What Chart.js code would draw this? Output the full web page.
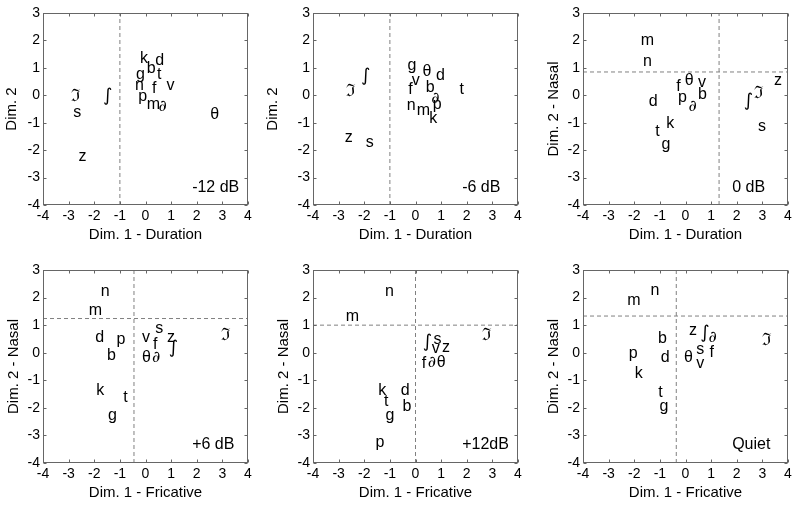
<!DOCTYPE html>
<html lang="en">
<head>
<meta charset="UTF-8">
<title>MDS consonant confusions</title>
<script src="https://cdn.jsdelivr.net/npm/chart.js"></script>
<style>
    body {
        margin: 0;
        background: #fff;
        width: 800px;
        height: 506px;
        position: relative;
        overflow: hidden;
    }
    .panel {
        position: absolute;
    }
</style>
</head>
<body>
<script>
    // consonant order shared by every panel
    const phonemes = ['p', 't', 'k', 'b', 'd', 'g', 'f', 'θ', 's', '∫', 'v', '∂', 'z', 'ℑ', 'm', 'n'];

    const xMinus12 = [-0.28, 0.45, -0.21, 0.05, 0.38, -0.37, 0.25, 2.53, -2.82, -1.66, 0.82, 0.51, -2.61, -2.91, 0.05, -0.41];
    const yMinus12 = [-0.06, 0.75, 1.34, 0.97, 1.27, 0.75, 0.24, -0.72, -0.63, -0.05, 0.34, -0.43, -2.24, -0.05, -0.34, 0.34];

    const xMinus6 = [0.67, 1.72, 0.54, 0.40, 0.80, -0.31, -0.28, 0.27, -1.94, -2.13, -0.15, 0.61, -2.76, -2.72, 0.05, -0.34];
    const yMinus6 = [-0.33, 0.20, -0.85, 0.28, 0.73, 1.10, 0.20, 0.88, -1.71, 0.68, 0.52, -0.13, -1.55, 0.15, -0.57, -0.37];

    const xZero = [-0.29, -1.18, -0.75, 0.49, -1.43, -0.94, -0.36, -0.03, 2.83, 2.27, 0.49, 0.12, 3.45, 2.66, -1.75, -1.66];
    const yZero = [-0.08, -1.32, -1.02, 0.04, -0.23, -1.78, 0.31, 0.55, -1.14, -0.22, 0.48, -0.42, 0.52, 0.06, 1.99, 1.23];

    const xPlus6 = [-1.13, -0.87, -1.92, -1.50, -1.96, -1.46, 0.29, -0.14, 0.38, 0.91, -0.14, 0.25, 0.84, 2.95, -2.21, -1.75];
    const yPlus6 = [0.46, -1.62, -1.38, -0.11, 0.56, -2.29, 0.29, -0.19, 0.86, 0.15, 0.54, -0.19, 0.54, 0.63, 1.53, 2.22];

    const xPlus12 = [-1.56, -1.23, -1.45, -0.51, -0.58, -1.17, 0.24, 0.83, 0.70, 0.28, 0.63, 0.48, 1.03, 2.59, -2.72, -1.19];
    const yPlus12 = [-3.26, -1.77, -1.38, -1.95, -1.38, -2.29, -0.39, -0.36, 0.46, 0.39, 0.14, -0.36, 0.20, 0.63, 1.31, 2.20];

    const xQuiet = [-2.21, -1.06, -1.98, -1.07, -0.97, -1.01, 0.94, -0.06, 0.42, 0.58, 0.42, 0.90, 0.14, 2.98, -2.27, -1.37];
    const yQuiet = [-0.02, -1.44, -0.75, 0.50, -0.17, -1.96, 0.01, -0.16, 0.10, 0.69, -0.41, 0.54, 0.80, 0.45, 1.90, 2.24];

    const conditions = ['-12 dB', '-6 dB', '0 dB', '+6 dB', '+12dB', 'Quiet'];
    const xTitles = ['Dim. 1 - Duration', 'Dim. 1 - Duration', 'Dim. 1 - Duration',
                     'Dim. 1 - Fricative', 'Dim. 1 - Fricative', 'Dim. 1 - Fricative'];
    const yTitles = ['Dim. 2', 'Dim. 2', 'Dim. 2 - Nasal', 'Dim. 2 - Nasal', 'Dim. 2 - Nasal', 'Dim. 2 - Nasal'];

    // dashed split lines (null = none)
    const splitX = [-1, -1, 1.31, -0.45, 0, -0.36];
    const splitY = [null, null, 0.85, 1.24, 1.0, 1.33];

    const xRange = [-4, 4];
    const yRange = [-4, 3];
    const tagPos = [1.82, -3.35];

    const panelX = [xMinus12, xMinus6, xZero, xPlus6, xPlus12, xQuiet];
    const panelY = [yMinus12, yMinus6, yZero, yPlus6, yPlus12, yQuiet];

    // plot-area boxes in page pixels (left, top, width, height, y-title offset)
    const areas = [
        { l: 43,  t: 13,  w: 205, h: 192, off: 31 },
        { l: 313, t: 13,  w: 205, h: 192, off: 40 },
        { l: 583, t: 13,  w: 205, h: 192, off: 29 },
        { l: 43,  t: 270, w: 205, h: 193, off: 29 },
        { l: 313, t: 270, w: 205, h: 193, off: 29 },
        { l: 583, t: 270, w: 205, h: 193, off: 29 }
    ];

    const FAMILY = '"Liberation Sans", Arial, Helvetica, sans-serif';
    Chart.defaults.font.family = FAMILY;
    Chart.defaults.color = '#000';

    function labelFont(s) {
        if (s === '∂') return 'italic 16px "DejaVu Serif", serif';
        if (s === 'ℑ') return '17px "DejaVu Serif", serif';
        if (s === '∫') return '18px "DejaVu Sans", sans-serif';
        return '16px ' + FAMILY;
    }

    // draws the consonant symbols and the condition tag at their data positions
    const phonemeText = {
        id: 'phonemeText',
        afterDatasetsDraw(chart, args, opts) {
            const { ctx, scales: { x, y } } = chart;
            const pts = chart.data.datasets[0].data;
            ctx.save();
            ctx.fillStyle = '#000';
            ctx.textAlign = 'left';
            ctx.textBaseline = 'middle';
            pts.forEach(p => {
                ctx.font = labelFont(p.label);
                ctx.fillText(p.label, x.getPixelForValue(p.x), y.getPixelForValue(p.y));
            });
            ctx.font = '16px ' + FAMILY;
            ctx.fillText(opts.tag, x.getPixelForValue(tagPos[0]), y.getPixelForValue(tagPos[1]));
            ctx.restore();
        }
    };

    // matlab style box with inward tick marks
    const matlabBox = {
        id: 'matlabBox',
        afterDraw(chart) {
            const { ctx, chartArea: a, scales: { x, y } } = chart;
            const L = Math.round(a.left) + 0.5, R = Math.round(a.right) - 0.5;
            const T = Math.round(a.top) + 0.5, B = Math.round(a.bottom) - 0.5;
            const len = 3;
            ctx.save();
            ctx.strokeStyle = '#666';
            ctx.lineWidth = 1;
            ctx.strokeRect(L, T, R - L, B - T);
            ctx.beginPath();
            x.ticks.forEach(t => {
                const px = Math.round(x.getPixelForValue(t.value)) + 0.5;
                ctx.moveTo(px, B); ctx.lineTo(px, B - len);
                ctx.moveTo(px, T); ctx.lineTo(px, T + len);
            });
            y.ticks.forEach(t => {
                const py = Math.round(y.getPixelForValue(t.value)) + 0.5;
                ctx.moveTo(L, py); ctx.lineTo(L + len, py);
                ctx.moveTo(R, py); ctx.lineTo(R - len, py);
            });
            ctx.stroke();
            ctx.restore();
        }
    };

    function dashed(points) {
        return {
            type: 'line',
            data: points,
            borderColor: '#808080',
            borderWidth: 1,
            borderDash: [4, 3],
            pointRadius: 0,
            fill: false
        };
    }

    function setupPanel(i) {
        const a = areas[i];
        const yw = a.off + 12;
        const padTop = 13, padRight = 8, axisH = 40, padBottom = 2;

        const div = document.createElement('div');
        div.className = 'panel';
        div.style.left = (a.l - yw) + 'px';
        div.style.top = (a.t - padTop) + 'px';
        div.style.width = (yw + a.w + padRight) + 'px';
        div.style.height = (padTop + a.h + axisH + padBottom) + 'px';
        const canvas = document.createElement('canvas');
        div.appendChild(canvas);
        document.body.appendChild(div);

        const datasets = [{
            type: 'scatter',
            data: phonemes.map((p, k) => ({ x: panelX[i][k], y: panelY[i][k], label: p })),
            pointRadius: 0,
            pointHoverRadius: 0
        }];
        if (splitX[i] !== null) {
            datasets.push(dashed([{ x: splitX[i], y: yRange[0] }, { x: splitX[i], y: yRange[1] }]));
        }
        if (splitY[i] !== null) {
            datasets.push(dashed([{ x: xRange[0], y: splitY[i] }, { x: xRange[1], y: splitY[i] }]));
        }

        new Chart(canvas, {
            type: 'scatter',
            data: { datasets: datasets },
            options: {
                responsive: true,
                maintainAspectRatio: false,
                animation: false,
                events: [],
                layout: { padding: { top: padTop, right: padRight, bottom: padBottom, left: 0 } },
                plugins: {
                    legend: { display: false },
                    tooltip: { enabled: false },
                    phonemeText: { tag: conditions[i] }
                },
                scales: {
                    x: {
                        type: 'linear',
                        min: xRange[0],
                        max: xRange[1],
                        grid: { display: false, drawTicks: false },
                        border: { display: false },
                        ticks: { stepSize: 1, padding: 2.6, color: '#000', font: { size: 14 } },
                        title: {
                            display: true,
                            text: xTitles[i],
                            color: '#000',
                            font: { size: 15 },
                            padding: { top: 0, bottom: 1 }
                        },
                        afterFit(s) { s.height = axisH; }
                    },
                    y: {
                        type: 'linear',
                        min: yRange[0],
                        max: yRange[1],
                        grid: { display: false, drawTicks: false },
                        border: { display: false },
                        ticks: { stepSize: 1, padding: 3, color: '#000', font: { size: 14 } },
                        title: {
                            display: true,
                            text: yTitles[i],
                            color: '#000',
                            font: { size: 15 },
                            padding: { top: 3, bottom: 0 }
                        },
                        afterFit(s) { s.width = yw; }
                    }
                }
            },
            plugins: [phonemeText, matlabBox]
        });
    }

    for (let i = 0; i < 6; i++) setupPanel(i);
</script>
</body>
</html>
